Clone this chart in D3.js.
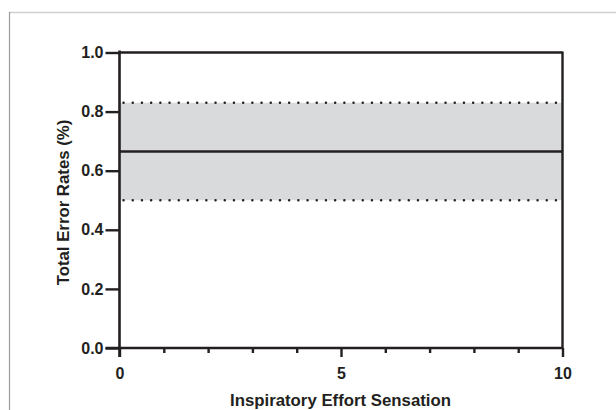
<!DOCTYPE html>
<html><head><meta charset="utf-8">
<script src="https://cdn.jsdelivr.net/npm/d3@7"></script>
<style>body{margin:0;background:#fff}svg{display:block}text{font-family:"Liberation Sans",Arial,sans-serif;font-weight:bold;fill:#231f20}</style>
</head><body>
<script>
const xDomain = [0, 10];
const yDomain = [0, 1.0];
const xMajorTicks = [0, 5, 10];
const xMinorTicks = [1, 2, 3, 4, 6, 7, 8, 9];
const yTicks = [0.0, 0.2, 0.4, 0.6, 0.8, 1.0];
const bandLower = [0.50];
const bandUpper = [0.83];
const meanLine = [0.665];
const xLabel = "Inspiratory Effort Sensation";
const yLabel = "Total Error Rates (%)";

const W = 616, H = 410;
const svg = d3.select("body").append("svg").attr("width", W).attr("height", H);
// outer frame
svg.append("line").attr("x1", 9).attr("x2", W).attr("y1", 12.5).attr("y2", 12.5).attr("stroke", "#cfcfcf").attr("stroke-width", 1.3);
svg.append("line").attr("x1", 9.5).attr("x2", 9.5).attr("y1", 12).attr("y2", H).attr("stroke", "#9a9a9a").attr("stroke-width", 1.2);

const x = d3.scaleLinear().domain(xDomain).range([119.5, 562.5]);
const y = d3.scaleLinear().domain(yDomain).range([348, 52.5]);
const ink = "#231f20";
const tickFont = "16px", titleFont = "16.8px";

// band
svg.append("rect").attr("x", x(0)).attr("width", x(10) - x(0))
  .attr("y", y(bandUpper[0])).attr("height", y(bandLower[0]) - y(bandUpper[0]))
  .attr("fill", "#d9dadc");
[bandLower[0], bandUpper[0]].forEach(v => {
  svg.append("line").attr("x1", x(0) + 4).attr("x2", x(10)).attr("y1", y(v)).attr("y2", y(v))
    .attr("stroke", ink).attr("stroke-width", 2.4).attr("stroke-dasharray", "0.1 9.1").attr("stroke-linecap", "round");
});
svg.append("line").attr("x1", x(0)).attr("x2", x(10)).attr("y1", y(meanLine[0])).attr("y2", y(meanLine[0]))
  .attr("stroke", ink).attr("stroke-width", 2.4);

// top and right frame
svg.append("line").attr("x1", x(0)).attr("x2", x(10)).attr("y1", y(1)).attr("y2", y(1)).attr("stroke", ink).attr("stroke-width", 2.4);
svg.append("line").attr("x1", x(10)).attr("x2", x(10)).attr("y1", y(1) - 1).attr("y2", y(0)).attr("stroke", ink).attr("stroke-width", 2.4);

// y axis
const yAxis = d3.axisLeft(y).tickValues(yTicks).tickFormat(d3.format(".1f")).tickSize(14).tickPadding(2);
const gy = svg.append("g").attr("transform", `translate(${x(0)},0)`).call(yAxis);
gy.select(".domain").remove();
gy.append("line").attr("x1", 0).attr("x2", 0).attr("y1", y(1) - 2).attr("y2", y(0) + 9).attr("stroke", ink).attr("stroke-width", 2.6);
gy.selectAll(".tick line").attr("stroke", ink).attr("stroke-width", 2.4);
gy.selectAll(".tick text").style("font-size", tickFont).attr("fill", ink).style("font-family", '"Liberation Sans",Arial,sans-serif').style("font-weight", "bold");

// x axis
const xAxis = d3.axisBottom(x).tickValues(xMajorTicks).tickFormat(d3.format("d")).tickSize(9).tickPadding(11);
const gx = svg.append("g").attr("transform", `translate(0,${y(0)})`).call(xAxis);
gx.select(".domain").remove();
gx.append("line").attr("x1", x(0) - 14).attr("x2", x(10)).attr("y1", 0).attr("y2", 0).attr("stroke", ink).attr("stroke-width", 2.6);
gx.selectAll(".tick line").attr("stroke", ink).attr("stroke-width", 2.4);
gx.selectAll(".tick text").style("font-size", tickFont).attr("fill", ink).style("font-family", '"Liberation Sans",Arial,sans-serif').style("font-weight", "bold");
const gxm = svg.append("g").attr("transform", `translate(0,${y(0)})`)
  .call(d3.axisBottom(x).tickValues(xMinorTicks).tickSize(5).tickFormat(""));
gxm.select(".domain").remove();
gxm.selectAll(".tick line").attr("stroke", ink).attr("stroke-width", 2.4);

// labels
svg.append("text").attr("x", (x(0) + x(10)) / 2 - 0.5).attr("y", 405.5).attr("text-anchor", "middle")
  .style("font-size", titleFont).text(xLabel);
svg.append("text").attr("transform", `translate(68.5,202.5) rotate(-90)`).attr("text-anchor", "middle")
  .style("font-size", titleFont).text(yLabel);
</script>
</body></html>
